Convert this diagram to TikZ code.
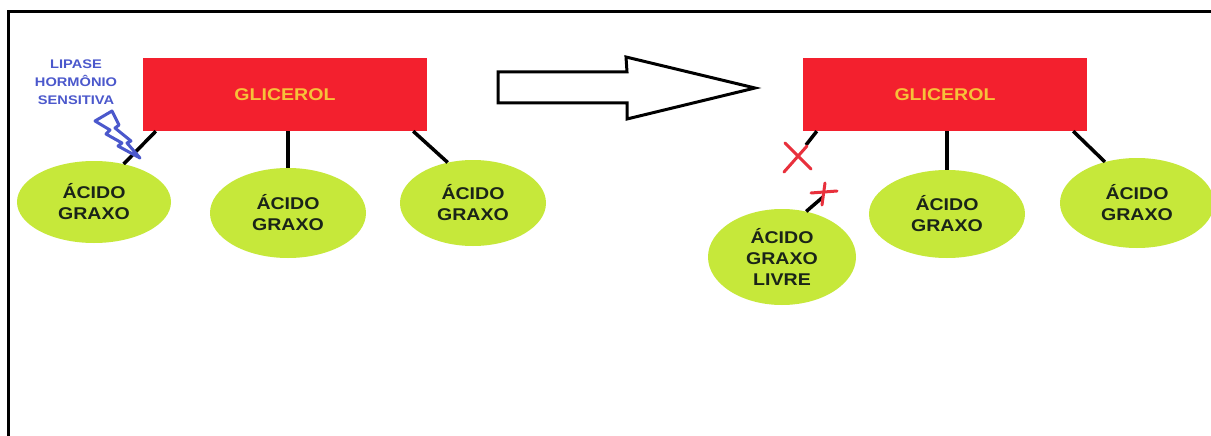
\documentclass[tikz,border=0pt]{standalone}
\usepackage{fontspec}
\usetikzlibrary{shapes.geometric,calc}
\newfontfamily\labfont[FakeStretch=1.15,BoldFont={Liberation Sans Bold}]{Liberation Sans}
\newfontfamily\lipfont[FakeStretch=1.17,BoldFont={Liberation Sans Bold}]{Liberation Sans}
\definecolor{glired}{HTML}{F3202E}
\definecolor{gligold}{HTML}{F6C23A}
\definecolor{fatgreen}{HTML}{C6E83A}
\definecolor{fattext}{HTML}{1A2418}
\definecolor{enzblue}{HTML}{4B58CC}
\definecolor{cutred}{HTML}{E8303C}
\begin{document}
\begin{tikzpicture}[x=1pt,y=-1pt,
  glibox/.style={draw=none,fill=glired,minimum width=284pt,minimum height=73pt,inner sep=0pt,
    text=gligold,font=\labfont\bfseries\fontsize{17}{21}\selectfont},
  fatacid/.style={ellipse,fill=fatgreen,inner sep=0pt,align=center,
    text=fattext,font=\labfont\bfseries\fontsize{17}{21}\selectfont},
  bond/.style={line width=3.5pt,black},
  cut/.style={line width=3pt,cutred,line cap=round}]
\useasboundingbox (0,0) rectangle (1211,436);
\fill[white] (0,0) rectangle (1211,436);
% outer frame
\draw[line width=3pt] (1215,11.5) -- (8,11.5) -- (8,440);

% ---------- intact triglyceride ----------
\node[glibox] (g1) at (285,94.5) {GLICEROL};
\node[fatacid,minimum width=154pt,minimum height=82pt] (e1) at (94,202) {ÁCIDO\\GRAXO};
\node[fatacid,minimum width=156pt,minimum height=90pt] (e2) at (288,213) {ÁCIDO\\GRAXO};
\node[fatacid,minimum width=146pt,minimum height=86pt] (e3) at (473,203) {ÁCIDO\\GRAXO};
\coordinate (b1) at ($(g1.south west)+(13,0)$);
\coordinate (b2) at (e2.north |- g1.south);
\coordinate (b3) at ($(g1.south east)+(-14,0)$);
\draw[bond] (b1) -- (e1.52);
\draw[bond] (b2) -- (e2.north);
\draw[bond] (b3) -- (e3.122);

% enzyme label and lightning bolt
\node[text=enzblue,align=center,font=\lipfont\bfseries\fontsize{12.5}{18}\selectfont] (lip) at (76,82) {LIPASE\\HORMÔNIO\\SENSITIVA};
\draw[enzblue,line width=3pt,line join=round]
  (95,121) -- (112,111) -- (119,125) -- (115,128) -- (131,141) -- (127,143)
  -- (140,158) -- (118,146) -- (122,143) -- (106,134) -- (110,130) -- cycle;

% ---------- reaction arrow ----------
\draw[line width=3pt,fill=white,line join=miter]
  (498,72) -- (627,72) -- (626,57) -- (755,88) -- (627,119) -- (627,103) -- (498,103) -- cycle;

% ---------- after hydrolysis ----------
\node[glibox] (g2) at (945,94.5) {GLICEROL};
\node[fatacid,minimum width=148pt,minimum height=96pt] (e4) at (782,257) {ÁCIDO\\GRAXO\\LIVRE};
\node[fatacid,minimum width=156pt,minimum height=88pt] (e5) at (947,214) {ÁCIDO\\GRAXO};
\node[fatacid,minimum width=154pt,minimum height=90pt] (e6) at (1137,203) {ÁCIDO\\GRAXO};
\coordinate (b4) at ($(g2.south west)+(14,0)$);
\coordinate (s4) at (806,145);
\coordinate (b5) at (e5.north |- g2.south);
\coordinate (b6) at ($(g2.south east)+(-14,0)$);
\draw[bond] (b4) -- (s4);
\draw[bond] (b5) -- (e5.north);
\draw[bond] (b6) -- (e6.128);
\coordinate (f4) at (823,197);
\draw[bond] (f4) -- (e4.62);

% broken bond marks
\draw[cut] (785,143) -- (811,169);
\draw[cut] (784,172) -- (807,146);
\draw[cut] (811,193) -- (837,191);
\draw[cut] (825,183) -- (822,205);
\end{tikzpicture}
\end{document}
